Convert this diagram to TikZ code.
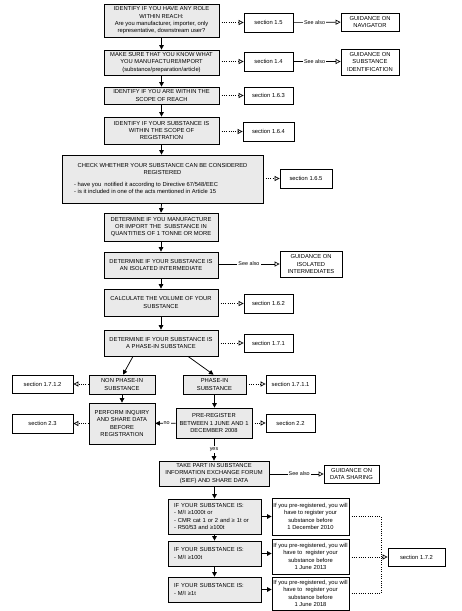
\documentclass[tikz,border=0pt]{standalone}
\usepackage{fontspec}
\setmainfont{Liberation Sans}
\usetikzlibrary{arrows.meta,calc}
\definecolor{boxgray}{HTML}{EAEAEA}
\newcommand\dgfont{\fontsize{5.8}{7.3}\selectfont}
\newcommand\dlfont{\fontsize{5.4}{6.5}\selectfont}
\tikzset{
 gbox/.style={draw, fill=boxgray, line width=0.75pt, inner sep=0pt, align=center, font=\dgfont},
 sbox/.style={draw, fill=white, line width=0.75pt, inner sep=0pt, align=center, font=\dgfont},
 arr/.style={-{Triangle[width=4.5pt,length=4.5pt]}, line width=0.75pt},
 dotarr/.style={-{Triangle[open,width=5pt,length=5pt]}, line width=0.7pt, dash pattern=on 0.9pt off 1.4pt},
 dotline/.style={line width=0.7pt, dash pattern=on 0.9pt off 1.4pt},
 seealso/.style={-{Triangle[open,width=5pt,length=5pt]}, line width=0.65pt},
 lbl/.style={fill=white, inner sep=1pt, font=\dlfont}
}
\begin{document}
\begin{tikzpicture}[x=1pt,y=-1pt]
\useasboundingbox (0,0) rectangle (461,611);
% main column
\node[gbox, minimum width=115, minimum height=33] (b1) at (161.5,20.5) {IDENTIFY IF YOU HAVE ANY ROLE\\WITHIN REACH:\\Are you manufacturer, importer, only\\representative, downstream user?};
\node[gbox, minimum width=115, minimum height=25] (b2) at (161.5,62.5) {MAKE SURE THAT YOU KNOW WHAT\\YOU MANUFACTURE/IMPORT\\(substance/preparation/article)};
\node[gbox, minimum width=115, minimum height=17] (b3) at (161.5,95.5) {IDENTIFY IF YOU ARE WITHIN THE\\SCOPE OF REACH};
\node[gbox, minimum width=115, minimum height=27] (b4) at (161.5,130.5) {IDENTIFY IF YOUR SUBSTANCE IS\\WITHIN THE SCOPE OF\\REGISTRATION};
\node[gbox, minimum width=201, minimum height=48] (b5) at (162.5,179) {};
\node[font=\dgfont, align=center, inner sep=0pt] (b5t) at (162.5,169) {CHECK WHETHER YOUR SUBSTANCE CAN BE CONSIDERED\\REGISTERED};
\node[font=\dgfont, align=left, inner sep=0pt, anchor=west] (b5b) at (74,188) {- have you\ \ notified it according to Directive 67/548/EEC\\- is it included in one of the acts mentioned in Article 15};
\node[gbox, minimum width=114, minimum height=28] (b6) at (161,227) {DETERMINE IF YOU MANUFACTURE\\OR IMPORT THE\ \ SUBSTANCE IN\\QUANTITIES OF 1 TONNE OR MORE};
\node[gbox, minimum width=114, minimum height=26] (b7) at (161,265) {DETERMINE IF YOUR SUBSTANCE IS\\AN ISOLATED INTERMEDIATE};
\node[gbox, minimum width=114, minimum height=27] (b8) at (161,302.5) {CALCULATE THE VOLUME OF YOUR\\SUBSTANCE};
\node[gbox, minimum width=114, minimum height=26] (b9) at (161,343) {DETERMINE IF YOUR SUBSTANCE IS\\A PHASE-IN SUBSTANCE};
\node[gbox, minimum width=66, minimum height=19] (np) at (122,384.5) {NON PHASE-IN\\SUBSTANCE};
\node[gbox, minimum width=63, minimum height=19] (ph) at (214.5,384.5) {PHASE-IN\\SUBSTANCE};
\node[gbox, minimum width=66, minimum height=41] (pi) at (122,423.5) {PERFORM INQUIRY\\AND SHARE DATA\\BEFORE\\REGISTRATION};
\node[gbox, minimum width=76, minimum height=30] (pr) at (214,423) {PRE-REGISTER\\BETWEEN 1 JUNE AND 1\\DECEMBER 2008};
\node[gbox, minimum width=110, minimum height=25] (sief) at (214,473.5) {TAKE PART IN SUBSTANCE\\INFORMATION EXCHANGE FORUM\\(SIEF) AND SHARE DATA};
\node[gbox, minimum width=93, minimum height=35, align=left, text width=81, inner xsep=6pt] (if1) at (214.5,516.5) {IF YOUR SUBSTANCE IS:\\- M/I ≥1000t or\\- CMR cat 1 or 2 and ≥ 1t or\\- R50/53 and ≥100t};
\node[gbox, minimum width=93, minimum height=25, align=left, text width=81, inner xsep=6pt] (if2) at (214.5,553.5) {IF YOUR SUBSTANCE IS:\\- M/I ≥100t};
\node[gbox, minimum width=93, minimum height=25, align=left, text width=81, inner xsep=6pt] (if3) at (214.5,589.5) {IF YOUR SUBSTANCE IS:\\- M/I ≥1t};
% white boxes
\node[sbox, minimum width=49, minimum height=19] (s15) at (268.5,22.5) {section 1.5};
\node[sbox, minimum width=58, minimum height=18] (g1) at (370,22) {GUIDANCE ON\\NAVIGATOR};
\node[sbox, minimum width=49, minimum height=19] (s14) at (268.5,61.5) {section 1.4};
\node[sbox, minimum width=58, minimum height=26] (g2) at (370,62) {GUIDANCE ON\\SUBSTANCE\\IDENTIFICATION};
\node[sbox, minimum width=49, minimum height=17] (s163) at (268.5,95.5) {section 1.6.3};
\node[sbox, minimum width=51, minimum height=19] (s164) at (268.5,131.5) {section 1.6.4};
\node[sbox, minimum width=52, minimum height=19] (s165) at (306,178.5) {section 1.6.5};
\node[sbox, minimum width=62, minimum height=26] (g3) at (311,264) {GUIDANCE ON\\ISOLATED\\INTERMEDIATES};
\node[sbox, minimum width=49, minimum height=19] (s162) at (268.5,303.5) {section 1.6.2};
\node[sbox, minimum width=49, minimum height=18] (s171) at (268.5,343) {section 1.7.1};
\node[sbox, minimum width=61, minimum height=18] (s1712) at (42.5,384) {section 1.7.1.2};
\node[sbox, minimum width=49, minimum height=18] (s1711) at (290.5,384) {section 1.7.1.1};
\node[sbox, minimum width=61, minimum height=19] (s23) at (42.5,423.5) {section 2.3};
\node[sbox, minimum width=49, minimum height=18] (s22) at (290.5,423) {section 2.2};
\node[sbox, minimum width=55, minimum height=18] (g4) at (351.5,474) {GUIDANCE ON\\DATA SHARING};
\node[sbox, minimum width=77, minimum height=37] (pr1) at (310.5,516.5) {If you pre-registered, you will\\have to register your\\substance before\\1 December 2010};
\node[sbox, minimum width=77, minimum height=35] (pr2) at (310.5,556.5) {If you pre-registered, you will\\have to\ \ register your\\substance before\\1 June 2013};
\node[sbox, minimum width=77, minimum height=33] (pr3) at (310.5,593.5) {If you pre-registered, you will\\have to\ \ register your\\substance before\\1 June 2018};
\node[sbox, minimum width=57, minimum height=18] (s172) at (416.5,557) {section 1.7.2};
\coordinate (jn) at (381,557);
% main arrows
\draw[arr] (b1) -- (b2);
\draw[arr] (b2) -- (b3);
\draw[arr] (b3) -- (b4);
\draw[arr] (b4.south) -- (b4.south |- b5.north);
\draw[arr] (b4.south |- b5.south) -- (b6.north);
\draw[arr] (b6) -- (b7);
\draw[arr] (b7) -- (b8);
\draw[arr] (b8) -- (b9);
\draw[arr] ($(b9.south)+(-28,0)$) -- ($(np.north)+(1,0)$);
\draw[arr] ($(b9.south)+(27,0)$) -- ($(ph.north)+(-1,0)$);
\draw[arr] (np) -- (pi);
\draw[arr] (ph.south) -- (ph.south |- pr.north);
\draw[arr] (pr) -- node[lbl, pos=0.45] {no} (pi);
\draw[arr] (pr) -- node[lbl] {yes} (sief);
\draw[arr] (sief.south -| if1.north) -- (if1.north);
\draw[arr] (if1) -- (if2);
\draw[arr] (if2) -- (if3);
\draw[arr] (if1.east) -- (if1.east -| pr1.west);
\draw[arr] (if2.east) -- (if2.east -| pr2.west);
\draw[arr] (if3.east) -- (if3.east -| pr3.west);
% dotted section links
\draw[dotarr] (b1.east |- s15.west) -- (s15.west);
\draw[dotarr] (b2.east |- s14.west) -- (s14.west);
\draw[dotarr] (b3) -- (s163);
\draw[dotarr] (b4.east |- s164.west) -- (s164.west);
\draw[dotarr] (b5.east |- s165.west) -- (s165.west);
\draw[dotarr] (b8.east |- s162.west) -- (s162.west);
\draw[dotarr] (b9) -- (s171);
\draw[dotarr] (np.west |- s1712.east) -- (s1712.east);
\draw[dotarr] (ph.east |- s1711.west) -- (s1711.west);
\draw[dotarr] (pi.west |- s23.east) -- (s23.east);
\draw[dotarr] (pr.east |- s22.west) -- (s22.west);
\draw[dotline] (pr1.east) -| (jn);
\draw[dotline] (pr3.east) -| (jn);
\draw[dotarr] (pr2.east |- jn) -- (s172.west);
% see also
\draw[seealso] (s15) -- node[lbl, pos=0.45] {See also} (g1);
\draw[seealso] (s14.east) -- node[lbl, pos=0.45] {See also} (s14.east -| g2.west);
\draw[seealso] (b7.east |- g3.west) -- node[lbl, pos=0.5] {See also} (g3.west);
\draw[seealso] (sief.east |- g4.west) -- node[lbl, pos=0.55] {See also} (g4.west);
\end{tikzpicture}
\end{document}
